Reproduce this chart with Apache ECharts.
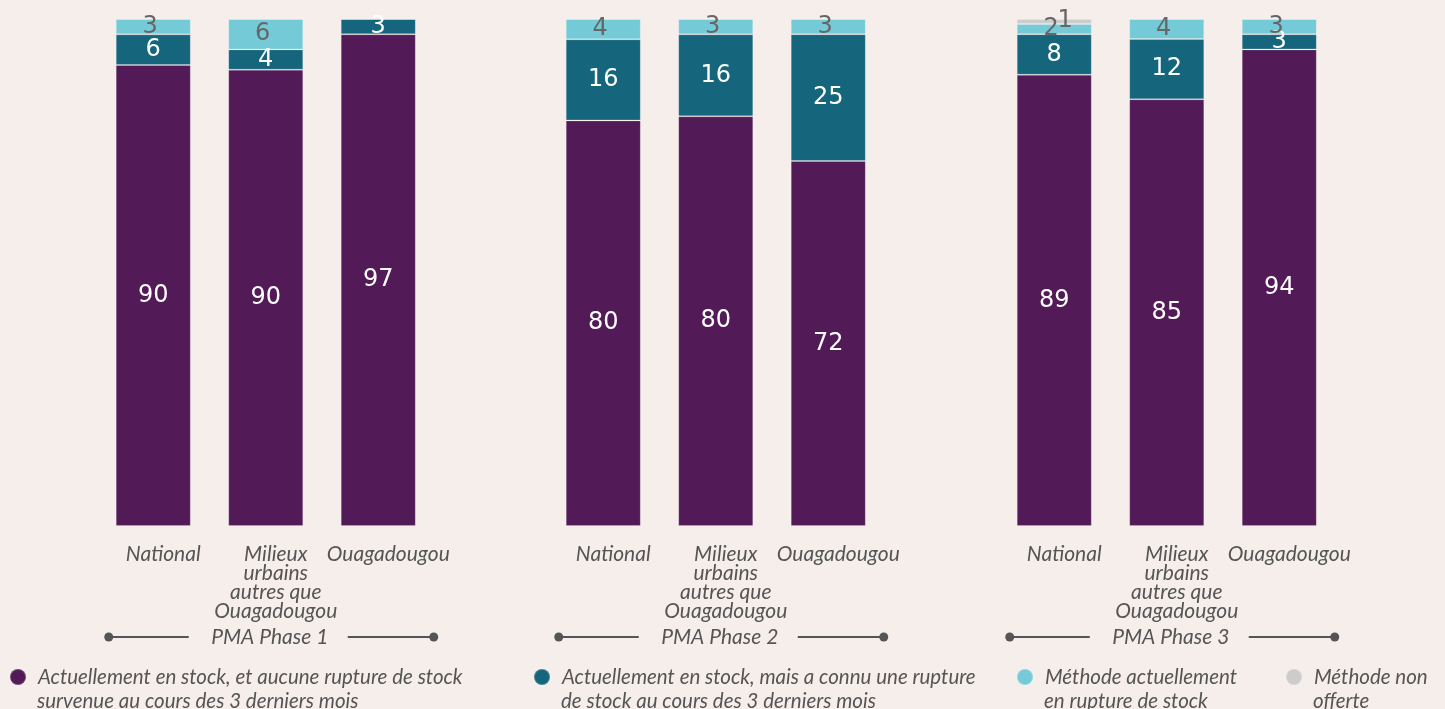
<!DOCTYPE html>
<html lang="fr">
<head>
<meta charset="UTF-8">
<title>Disponibilité des méthodes</title>
<script src="https://cdn.jsdelivr.net/npm/echarts@6/dist/echarts.min.js"></script>
<style>
  html, body { margin: 0; padding: 0; background: #f5eeeb; }
  #chart { width: 1445px; height: 709px; }
</style>
</head>
<body>
<div id="chart"></div>
<script>
// categories and phases
var categories = ['National', 'Milieux\nurbains\nautres que\nOuagadougou', 'Ouagadougou'];
var phases = ['PMA Phase 1', 'PMA Phase 2', 'PMA Phase 3'];

// values per phase: [National, Milieux urbains, Ouagadougou]
var enStock = [[90, 90, 97], [80, 80, 72], [89, 85, 94]];
var ruptureRecente = [[6, 4, 3], [16, 16, 25], [8, 12, 3]];
var enRupture = [[3, 6, 0], [4, 3, 3], [2, 4, 3]];
var nonOfferte = [[0, 0, 0], [0, 0, 0], [1, 0, 0]];

// legend entries: first line is the series name, second line drawn below
var seriesNames = [
    'Actuellement en stock, et aucune rupture de stock',
    'Actuellement en stock, mais a connu une rupture',
    'Méthode actuellement',
    'Méthode non'
];
var secondLines = [
    'survenue au cours des 3 derniers mois',
    'de stock au cours des 3 derniers mois',
    'en rupture de stock',
    'offerte'
];
var colors = ['#521a56', '#15667c', '#74cbd7', '#cccccc'];
var labelColors = ['#ffffff', '#ffffff', '#666666', '#666666'];
var labelOffsets = [[0, 0], [0, 0], [-3, 0], [11, -1]];
var allValues = [enStock, ruptureRecente, enRupture, nonOfferte];

var chart = echarts.init(document.getElementById('chart'));

var gridLefts = [97, 547, 998];
var gridWidth = 337.5;
var gridTop = 19, gridHeight = 507;

var grids = [], xAxes = [], yAxes = [], series = [], graphics = [];

phases.forEach(function (ph, p) {
    grids.push({ left: gridLefts[p], top: gridTop, width: gridWidth, height: gridHeight });
    xAxes.push({
        type: 'category', gridIndex: p, data: categories,
        axisLine: { show: false }, axisTick: { show: false },
        axisLabel: {
            interval: 0, margin: 19, color: '#555555', fontFamily: 'Lato',
            fontStyle: 'italic', fontSize: 21, lineHeight: 19, padding: [0, 0, 0, 20]
        }
    });
    yAxes.push({ type: 'value', gridIndex: p, min: 0, max: 100, show: false });

    // totals per bar, used to fill each bar to 100%
    var totals = categories.map(function (c, i) {
        return allValues.reduce(function (s, arr) { return s + arr[p][i]; }, 0);
    });

    allValues.forEach(function (arr, s) {
        series.push({
            name: seriesNames[s], type: 'bar', stack: 'ph' + p,
            xAxisIndex: p, yAxisIndex: p, barWidth: 75,
            itemStyle: { color: colors[s], borderColor: 'rgba(255,255,255,0.18)', borderWidth: 1 },
            label: {
                show: true, position: 'inside', color: labelColors[s], offset: labelOffsets[s],
                fontFamily: 'DejaVu Sans', fontSize: 24,
                formatter: function (d) { var v = arr[p][d.dataIndex]; return v ? String(v) : ''; }
            },
            data: arr[p].map(function (v, i) { return v / totals[i] * 100; })
        });
    });

    // phase bracket below the axis labels
    var cx = gridLefts[p] + gridWidth / 2;
    var y = 637;
    graphics.push(
        { type: 'line', shape: { x1: cx - 157, y1: y, x2: cx - 77, y2: y }, style: { stroke: '#555', lineWidth: 2 } },
        { type: 'line', shape: { x1: cx + 82, y1: y, x2: cx + 168, y2: y }, style: { stroke: '#555', lineWidth: 2 } },
        { type: 'circle', shape: { cx: cx - 157, cy: y, r: 4.5 }, style: { fill: '#555' } },
        { type: 'circle', shape: { cx: cx + 168, cy: y, r: 4.5 }, style: { fill: '#555' } },
        { type: 'text', x: cx + 4, y: y, style: {
            text: ph, fill: '#555', font: 'italic 21px Lato', align: 'center', verticalAlign: 'middle' } }
    );
});

var legendLefts = [9, 533, 1016, 1285];
var legends = seriesNames.map(function (n, i) {
    // second line of the legend text
    graphics.push({ type: 'text', x: legendLefts[i] + 28, y: 701, style: {
        text: secondLines[i], fill: '#555', font: 'italic 20.5px Lato', verticalAlign: 'middle' } });
    return {
        data: [n], left: legendLefts[i], top: 665, padding: 0, icon: 'circle',
        itemWidth: 16, itemHeight: 16, selectedMode: false,
        textStyle: { color: '#555555', fontFamily: 'Lato', fontStyle: 'italic', fontSize: 20.5, lineHeight: 24, padding: [0, 0, 0, 7] }
    };
});

chart.setOption({
    backgroundColor: '#f5eeeb',
    animation: false,
    color: colors,
    grid: grids,
    xAxis: xAxes,
    yAxis: yAxes,
    legend: legends,
    series: series,
    graphic: graphics
});
</script>
</body>
</html>
